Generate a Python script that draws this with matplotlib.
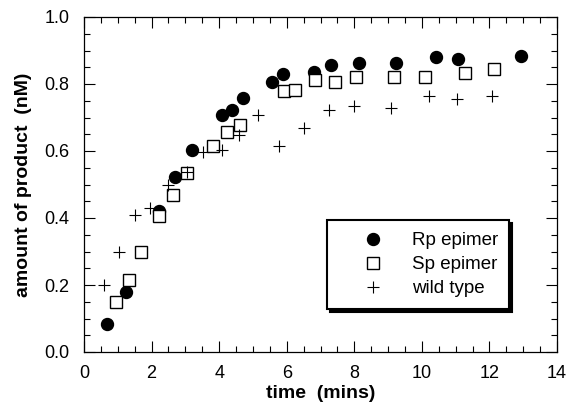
import matplotlib
matplotlib.use("Agg")
import matplotlib.pyplot as plt
from matplotlib.ticker import MultipleLocator, FormatStrFormatter

plt.rcParams['font.family'] = ['Liberation Sans', 'DejaVu Sans']

# Rp epimer (filled circles)
rp_time = [0.68, 1.24, 2.23, 2.68, 3.20, 4.08, 4.38, 4.71, 5.56, 5.90,
           6.80, 7.30, 8.15, 9.24, 10.42, 11.07, 12.93]
rp_prod = [0.083, 0.180, 0.420, 0.522, 0.602, 0.708, 0.723, 0.758, 0.805, 0.830,
           0.835, 0.857, 0.862, 0.862, 0.880, 0.875, 0.884]

# Sp epimer (open squares)
sp_time = [0.94, 1.34, 1.69, 2.21, 2.62, 3.06, 3.82, 4.22, 4.62, 5.93,
           6.26, 6.83, 7.42, 8.04, 9.18, 10.08, 11.29, 12.13]
sp_prod = [0.150, 0.215, 0.300, 0.405, 0.470, 0.535, 0.616, 0.657, 0.679, 0.778,
           0.783, 0.812, 0.806, 0.820, 0.820, 0.820, 0.833, 0.845]

# wild type (plus)
wt_time = [0.58, 1.05, 1.52, 1.96, 2.48, 3.04, 3.53, 4.07, 4.60, 5.16,
           5.78, 6.50, 7.24, 8.00, 9.08, 10.20, 11.04, 12.08]
wt_prod = [0.200, 0.300, 0.410, 0.430, 0.500, 0.537, 0.596, 0.604, 0.649, 0.708,
           0.616, 0.669, 0.721, 0.734, 0.728, 0.765, 0.756, 0.763]

fig = plt.figure(figsize=(5.74, 4.05), dpi=100)
ax = fig.add_axes([84 / 574, 1 - 352 / 405, 473 / 574, 335 / 405])

ax.plot(rp_time, rp_prod, 'o', color='black', markersize=8.6, linestyle='none',
        label='Rp epimer')
ax.plot(sp_time, sp_prod, 's', markerfacecolor='white', markeredgecolor='black',
        markersize=8.3, markeredgewidth=1.0, linestyle='none', label='Sp epimer')
ax.plot(wt_time, wt_prod, '+', color='black', markersize=9, markeredgewidth=0.8,
        linestyle='none', label='wild type')

ax.set_xlim(0, 14)
ax.set_ylim(0, 1.0)
ax.xaxis.set_major_locator(MultipleLocator(2))
ax.xaxis.set_minor_locator(MultipleLocator(0.5))
ax.yaxis.set_major_locator(MultipleLocator(0.2))
ax.yaxis.set_minor_locator(MultipleLocator(0.05))
ax.yaxis.set_major_formatter(FormatStrFormatter('%.1f'))
ax.tick_params(which='both', direction='in', top=True, right=True,
               labelsize=13, width=0.8)
ax.tick_params(axis='x', which='major', pad=9.5)
ax.tick_params(axis='y', which='major', pad=10.5)
ax.tick_params(which='major', length=8)
ax.tick_params(which='minor', length=4)
for s in ax.spines.values():
    s.set_linewidth(0.9)

ax.set_xlabel('time  (mins)', fontsize=14, fontweight='bold', labelpad=2)
ax.set_ylabel('amount of product  (nM)', fontsize=14, fontweight='bold', labelpad=9)

# legend box: top edge at y=0.394 of the axes
leg = ax.legend(loc='upper left', bbox_to_anchor=(0.514, 0.131, 0.385, 0.263),
                mode='expand', fontsize=13.5, frameon=True, fancybox=False,
                edgecolor='black', framealpha=1, borderaxespad=0,
                handlelength=3.6, handletextpad=0.28, labelspacing=0.36,
                borderpad=0.65, shadow={'color': 'black', 'alpha': 1})
leg.get_frame().set_linewidth(1.5)

fig.savefig('out.png', dpi=100)
